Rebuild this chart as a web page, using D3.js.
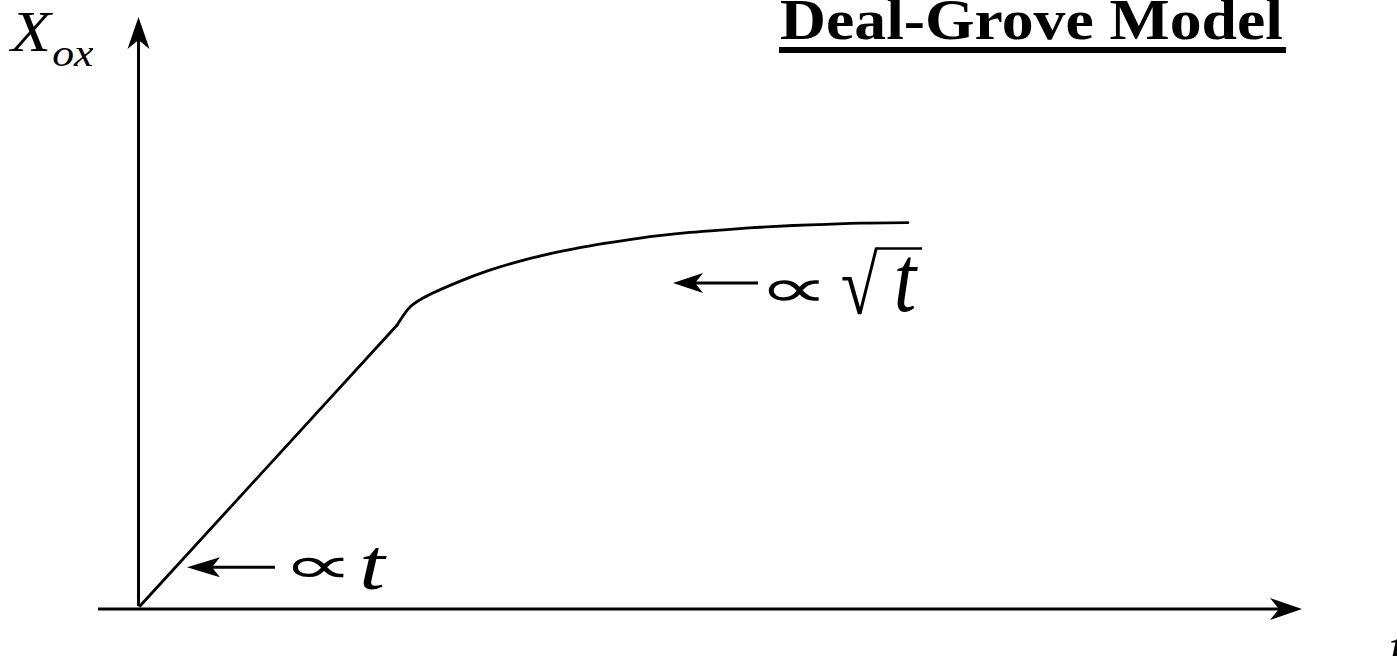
<!DOCTYPE html>
<html>
<head>
<meta charset="utf-8">
<script src="https://cdn.jsdelivr.net/npm/d3@7"></script>
<style>
  html, body { margin: 0; padding: 0; background: #fff; }
  svg { display: block; }
  text { font-family: "Liberation Serif", "Times New Roman", serif; fill: #000; }
</style>
</head>
<body>
<svg id="chart" width="1397" height="656"></svg>
<script>
// Oxide thickness vs. oxidation time (arbitrary units)
// Linear-rate regime: straight segment from the origin up to the knee
const linearTime  = [0, 4.43];
const linearOxide = [0, 4.84];
// Parabolic-rate regime: from the knee to the end of the curve
const parabolicTime  = [4.43, 4.66, 4.88, 5.47, 6.03, 6.60, 7.19, 7.76, 8.33, 8.91, 9.48, 10.12, 10.69, 11.26, 11.84, 12.41, 13.24];
const parabolicOxide = [4.84, 5.16, 5.31, 5.58, 5.79, 5.96, 6.10, 6.21, 6.30, 6.38, 6.44, 6.49, 6.53, 6.56, 6.58, 6.60, 6.61];

const titleText = "Deal-Grove Model";
const yLabel = "X";
const ySub = "ox";
const xLabel = "t";

// Annotation anchors (arrow tips) in data units
const linearTip = [0.81, 0.67];
const parabolicTip = [9.19, 5.57];

const svg = d3.select("#chart");
const x = d3.scaleLinear().domain([0, 20]).range([140, 1300]);
const y = d3.scaleLinear().domain([0, 10]).range([606, 26]);

// Notched arrowhead: tip point, direction angle (radians), length, half width
function arrowHead(tx, ty, ang, len, hw, notch) {
  const c = Math.cos(ang), s = Math.sin(ang);
  const pt = (a, b) => [tx - a * c + b * -s, ty - a * s + b * c];
  const p = [pt(0, 0), pt(len, -hw), pt(len - notch, 0), pt(len, hw)];
  return "M" + p.map(d => d.join(",")).join("L") + "Z";
}

// Place a glyph so that its inked extent fills the box [x0, y0, x1, y1]
const ctx = document.createElement("canvas").getContext("2d");
function fitGlyph(str, family, style, box) {
  ctx.font = `${style} normal 100px "${family}"`;
  const m = ctx.measureText(str);
  const w = m.actualBoundingBoxLeft + m.actualBoundingBoxRight;
  const h = m.actualBoundingBoxAscent + m.actualBoundingBoxDescent;
  const sx = (box[2] - box[0]) / w, sy = (box[3] - box[1]) / h;
  const ox = box[0] + m.actualBoundingBoxLeft * sx;
  const oy = box[1] + m.actualBoundingBoxAscent * sy;
  return svg.append("text")
    .attr("transform", `translate(${ox},${oy}) scale(${sx},${sy})`)
    .attr("font-family", family).attr("font-style", style)
    .attr("font-size", 100).text(str);
}

// Axes
const x0 = x(0) - 1.5;
const yTop = 17;
svg.append("line").attr("x1", x0).attr("x2", x0)
  .attr("y1", y(0)).attr("y2", yTop + 20)
  .attr("stroke", "#000").attr("stroke-width", 3);
svg.append("path").attr("d", arrowHead(x0, yTop, -Math.PI / 2, 32, 11, 9)).attr("fill", "#000");

const axisY = y(0) + 3;
const xRight = 1302;
svg.append("line").attr("x1", 98).attr("x2", xRight - 20)
  .attr("y1", axisY).attr("y2", axisY)
  .attr("stroke", "#000").attr("stroke-width", 3);
svg.append("path").attr("d", arrowHead(xRight, axisY, 0, 32, 11, 9)).attr("fill", "#000");

// Growth curve: straight linear-rate part, then smooth parabolic part
const linPts = linearTime.map((t, i) => [t, linearOxide[i]]);
const parPts = parabolicTime.map((t, i) => [t, parabolicOxide[i]]);
const straight = d3.line().x(d => x(d[0])).y(d => y(d[1]));
const smooth = d3.line().x(d => x(d[0])).y(d => y(d[1])).curve(d3.curveCatmullRom.alpha(0.5));
[straight(linPts), smooth(parPts)].forEach(d => {
  svg.append("path").attr("d", d)
    .attr("fill", "none").attr("stroke", "#000").attr("stroke-width", 2.8)
    .attr("stroke-linejoin", "round").attr("stroke-linecap", "round");
});

// Axis labels
const yl = svg.append("text").attr("transform", "translate(11,51) scale(1.15,1)")
  .attr("font-size", 57).attr("font-style", "italic");
yl.append("tspan").text(yLabel);
yl.append("tspan").attr("font-size", 38).attr("dx", 1).attr("dy", 15).text(ySub);

svg.append("text").attr("transform", "translate(1388,668) scale(1.15,1)")
  .attr("font-size", 62).attr("font-style", "italic").text(xLabel);

// Title with underline
svg.append("text").attr("x", 780).attr("y", 39)
  .attr("font-size", 57).attr("font-weight", "bold")
  .attr("textLength", 503).attr("lengthAdjust", "spacingAndGlyphs")
  .text(titleText);
svg.append("rect").attr("x", 779).attr("y", 47).attr("width", 507).attr("height", 6).attr("fill", "#000");

// Annotation: linear regime, X ∝ t
{
  const tx = x(linearTip[0]), ty = y(linearTip[1]);
  svg.append("line").attr("x1", tx + 20).attr("x2", tx + 88).attr("y1", ty).attr("y2", ty)
    .attr("stroke", "#000").attr("stroke-width", 3);
  svg.append("path").attr("d", arrowHead(tx, ty, Math.PI, 33, 10, 8)).attr("fill", "#000");
  fitGlyph("\u221D", "DejaVu Serif", "normal", [tx + 105, ty - 10, tx + 153, ty + 11]);
  fitGlyph("t", "Liberation Serif", "italic", [tx + 176, ty - 18, tx + 200, ty + 23]);
}

// Annotation: parabolic regime, X ∝ √t
{
  const tx = x(parabolicTip[0]), ty = y(parabolicTip[1]);
  svg.append("line").attr("x1", tx + 20).attr("x2", tx + 85).attr("y1", ty).attr("y2", ty)
    .attr("stroke", "#000").attr("stroke-width", 3);
  svg.append("path").attr("d", arrowHead(tx, ty, Math.PI, 30, 10, 8)).attr("fill", "#000");
  fitGlyph("\u221D", "DejaVu Serif", "normal", [tx + 95, ty - 3, tx + 142, ty + 19]);
  fitGlyph("\u221A", "Liberation Serif", "normal", [tx + 169, ty - 36, tx + 205, ty + 32]);
  svg.append("line").attr("x1", tx + 203).attr("x2", tx + 249).attr("y1", ty - 34.5).attr("y2", ty - 34.5)
    .attr("stroke", "#000").attr("stroke-width", 2.5);
  fitGlyph("t", "Liberation Serif", "italic", [tx + 224, ty - 25, tx + 245, ty + 29]);
}
</script>
</body>
</html>
